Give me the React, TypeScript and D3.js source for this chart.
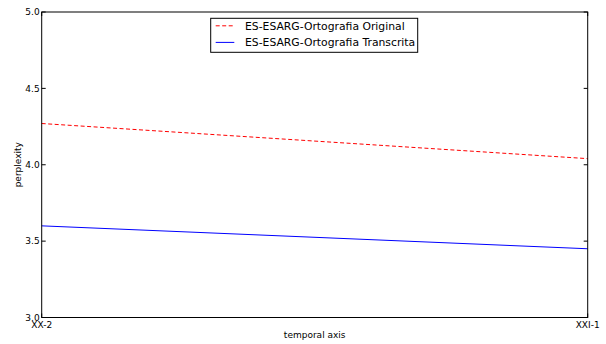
import React, { useEffect, useRef } from 'react';
import * as d3 from 'd3';

// data
const periods = ['XX-2', 'XXI-1'];
const original = [4.27, 4.04];
const transcrita = [3.6, 3.45];
const yTicks = [3.0, 3.5, 4.0, 4.5, 5.0];
const seriesNames = ['ES-ESARG-Ortografia Original', 'ES-ESARG-Ortografia Transcrita'];

const W = 606;
const H = 344;

const App = () => {
  const svgRef = useRef<SVGSVGElement>(null);

  useEffect(() => {
    const svg = d3.select(svgRef.current);
    svg.selectAll('*').remove();

    const left = 41.7, right = 587.7, top = 12, bottom = 317.5;
    const font = 'DejaVu Sans, sans-serif';

    const x = d3.scalePoint<string>().domain(periods).range([left, right]);
    const y = d3.scaleLinear().domain([3, 5]).range([bottom, top]);

    svg.append('rect').attr('width', W).attr('height', H).attr('fill', '#fff');

    // series lines
    const line = d3.line<number>()
      .x((_, i) => x(periods[i]) as number)
      .y(d => y(d));

    svg.append('path')
      .datum(original)
      .attr('d', line)
      .attr('fill', 'none')
      .attr('stroke', '#ff0000')
      .attr('stroke-width', 1)
      .attr('stroke-dasharray', '4,2.5');

    svg.append('path')
      .datum(transcrita)
      .attr('d', line)
      .attr('fill', 'none')
      .attr('stroke', '#0000ff')
      .attr('stroke-width', 1);

    // ticks inside the frame, both sides
    const g = svg.append('g').attr('stroke', '#000').attr('stroke-width', 1);
    yTicks.forEach(t => {
      g.append('line').attr('x1', left).attr('x2', left + 4).attr('y1', y(t)).attr('y2', y(t));
      g.append('line').attr('x1', right).attr('x2', right - 4).attr('y1', y(t)).attr('y2', y(t));
    });
    periods.forEach(p => {
      const px = x(p) as number;
      g.append('line').attr('x1', px).attr('x2', px).attr('y1', bottom).attr('y2', bottom - 4);
      g.append('line').attr('x1', px).attr('x2', px).attr('y1', top).attr('y2', top + 4);
    });

    // frame
    svg.append('rect')
      .attr('x', left).attr('y', top)
      .attr('width', right - left).attr('height', bottom - top)
      .attr('fill', 'none').attr('stroke', '#000').attr('stroke-width', 1);

    // tick labels
    svg.selectAll('.ytick')
      .data(yTicks)
      .enter()
      .append('text')
      .attr('x', left - 2)
      .attr('y', d => y(d))
      .attr('dy', '0.35em')
      .attr('text-anchor', 'end')
      .attr('font-family', font)
      .attr('font-size', '9px')
      .attr('fill', '#000')
      .text(d => d.toFixed(1));

    svg.selectAll('.xtick')
      .data(periods)
      .enter()
      .append('text')
      .attr('x', d => x(d) as number)
      .attr('y', bottom + 10)
      .attr('text-anchor', 'middle')
      .attr('font-family', font)
      .attr('font-size', '9px')
      .attr('fill', '#000')
      .text(d => d);

    // axis titles
    svg.append('text')
      .attr('x', (left + right) / 2)
      .attr('y', 338)
      .attr('text-anchor', 'middle')
      .attr('font-family', font)
      .attr('font-size', '9px')
      .text('temporal axis');

    svg.append('text')
      .attr('transform', `translate(21,${(top + bottom) / 2}) rotate(-90)`)
      .attr('text-anchor', 'middle')
      .attr('font-family', font)
      .attr('font-size', '9px')
      .text('perplexity');

    // legend
    const lg = svg.append('g').attr('transform', 'translate(210.7,18.3)');
    lg.append('rect')
      .attr('width', 207).attr('height', 34)
      .attr('fill', '#fff').attr('stroke', '#000').attr('stroke-width', 1);
    const styles = [
      { color: '#ff0000', dash: '4,2.5' },
      { color: '#0000ff', dash: null },
    ];
    seriesNames.forEach((name, i) => {
      const ry = 7.5 + i * 16.6;
      lg.append('line')
        .attr('x1', 5).attr('x2', 23.6)
        .attr('y1', ry).attr('y2', ry)
        .attr('stroke', styles[i].color)
        .attr('stroke-width', 1)
        .attr('stroke-dasharray', styles[i].dash);
      lg.append('text')
        .attr('x', 34.3)
        .attr('y', ry)
        .attr('dy', '0.35em')
        .attr('font-family', font)
        .attr('font-size', '10.8px')
        .attr('fill', '#000')
        .text(name);
    });
  }, []);

  return (
    <svg ref={svgRef} width={W} height={H}
      style={{ position: 'absolute', left: 0, top: 0, display: 'block' }} />
  );
};

export default App;
